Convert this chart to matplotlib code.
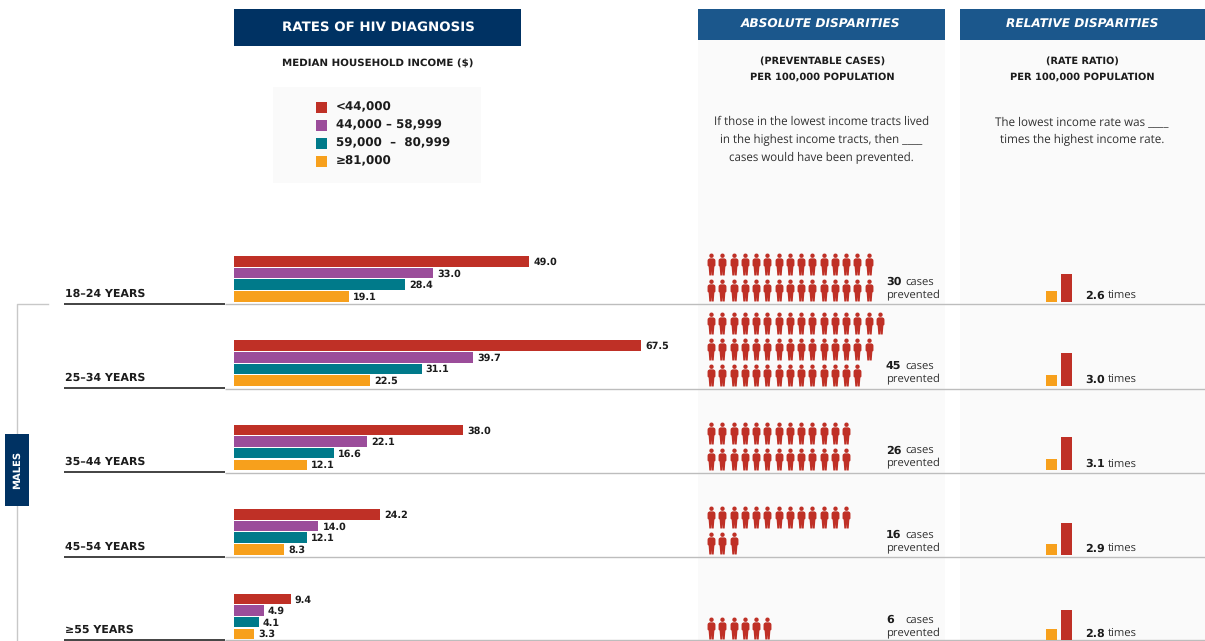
import matplotlib
matplotlib.use("Agg")
import matplotlib.pyplot as plt
from matplotlib.path import Path
from matplotlib.patches import Rectangle
import numpy as np

plt.rcParams["text.hinting"] = "no_hinting"

# ---- data ----
age_groups = ["18–24 YEARS", "25–34 YEARS", "35–44 YEARS", "45–54 YEARS", "≥55 YEARS"]
income_labels = ["<44,000", "44,000 – 58,999", "59,000  –  80,999", "≥81,000"]
rate_lowest = [49.0, 67.5, 38.0, 24.2, 9.4]
rate_low_mid = [33.0, 39.7, 22.1, 14.0, 4.9]
rate_high_mid = [28.4, 31.1, 16.6, 12.1, 4.1]
rate_highest = [19.1, 22.5, 12.1, 8.3, 3.3]
preventable = [30, 45, 26, 16, 6]
icon_rows = [[15, 15], [16, 15, 14], [13, 13], [13, 3], [6]]
rate_ratio = [2.6, 3.0, 3.1, 2.9, 2.8]
# ---- styles ----
RED, PURPLE, TEAL, ORANGE = "#bf3026", "#9b4d9a", "#007a8a", "#f7a01c"
NAVY, BLUE = "#003263", "#1b578c"
COLORS = [RED, PURPLE, TEAL, ORANGE]
INK = "#1c1c1c"
HEAD = "DejaVu Sans"
BODY = "Open Sans"
NUM = "DejaVu Sans"

W, H = 1205, 641
fig = plt.figure(figsize=(W / 100, H / 100), dpi=100, facecolor="white")
bg = fig.add_axes([0, 0, 1, 1])
bg.set_xlim(0, W); bg.set_ylim(H, 0); bg.axis("off")


def px_axes(x0, y0, x1, y1):
    a = fig.add_axes([x0 / W, 1 - y1 / H, (x1 - x0) / W, (y1 - y0) / H])
    a.patch.set_alpha(0); a.axis("off")
    return a


def rect(x0, y0, x1, y1, c, z=1):
    bg.add_patch(Rectangle((x0, y0), x1 - x0, y1 - y0, fc=c, ec="none", zorder=z))


def txt(x, y, s, size, weight="normal", fam=BODY, c=INK, ha="left", **kw):
    return bg.text(x, y, s, fontsize=size, fontweight=weight, family=fam, color=c, ha=ha, va="center", zorder=6, **kw)


# panels and headers
rect(698, 40, 945, H, "#fafafa")
rect(960, 40, W, H, "#fafafa")
rect(273, 87, 481, 183, "#fafafa")
rect(234, 9, 521, 46, NAVY)
rect(698, 9, 945, 40, BLUE)
rect(960, 9, W, 40, BLUE)
txt(378, 27.5, "RATES OF HIV DIAGNOSIS", 9.6, "bold", HEAD, "white", "center")
txt(821, 25, "ABSOLUTE DISPARITIES", 8.7, "bold", HEAD, "white", "center", style="italic")
txt(1082, 25, "RELATIVE DISPARITIES", 8.7, "bold", HEAD, "white", "center", style="italic")
txt(378, 64, "MEDIAN HOUSEHOLD INCOME ($)", 7.4, "bold", HEAD, INK, "center")
txt(822.5, 61, "(PREVENTABLE CASES)", 7.0, "bold", HEAD, INK, "center")
txt(822.5, 77, "PER 100,000 POPULATION", 7.1, "bold", HEAD, INK, "center")
txt(1082, 61, "(RATE RATIO)", 7.0, "bold", HEAD, INK, "center")
txt(1082, 77, "PER 100,000 POPULATION", 7.1, "bold", HEAD, INK, "center")
for yy, s in zip((121.7, 139.7, 157.7), ("If those in the lowest income tracts lived",
                                         "in the highest income tracts, then ____",
                                         "cases would have been prevented.")):
    txt(821.5, yy, s, 8.3, ha="center", c="#303030")
for yy, s in zip((121.7, 139.7), ("The lowest income rate was ____", "times the highest income rate.")):
    txt(1082, yy, s, 8.4, ha="center", c="#303030")

# legend
for yy, c, s in zip((107, 125, 143, 161), COLORS, income_labels):
    rect(316, yy - 5.5, 327, yy + 5.5, c)
    txt(336, yy, s, 8.6, "bold", NUM, INK)

# rules
group_bottom = [304, 388.5, 472.5, 557, 640]
for yb in group_bottom:
    bg.plot([225, W], [yb, yb], color="#bdbdbd", lw=1, zorder=5, solid_capstyle="butt")
    bg.plot([64, 225], [yb - 0.5, yb - 0.5], color="#222222", lw=1.2, zorder=5, solid_capstyle="butt")
bg.plot([48, 17, 17], [304, 304, H], color="#c8c8c8", lw=1, zorder=2)
rect(5, 434, 29, 506, NAVY, 3)
txt(17.5, 470, "MALES", 7.2, "bold", HEAD, "white", "center", rotation=90)

# person icon
head = Path.circle((0, 0.80), 0.20)
body = Path([(-0.18, 0.56), (0.18, 0.56), (0.32, 0.48), (0.36, 0.36), (0.36, -0.10), (0.26, -0.20),
             (0.20, -1.0), (0.02, -1.0), (0.0, -0.6), (-0.02, -1.0), (-0.20, -1.0),
             (-0.26, -0.20), (-0.36, -0.10), (-0.36, 0.36), (-0.32, 0.48), (-0.18, 0.56)])
PERSON = Path.make_compound_path(head, body)

group_top = [255.7, 339.9, 424.2, 508.7, 593.2]
icon_row_y = [[264, 290], [323, 349, 375], [433, 459], [517, 543], [628]]
base = [301.5, 385.5, 470, 554.5, 639.5]
value_sets = list(zip(rate_lowest, rate_low_mid, rate_high_mid, rate_highest))

for i, age in enumerate(age_groups):
    txt(65, group_bottom[i] - 10.5, age, 7.9, "bold", HEAD, INK)
    # bars
    a = px_axes(234, group_top[i], 837, group_top[i] + 46.4)
    a.set_xlim(0, 100); a.set_ylim(3.5, -0.5)
    vals = value_sets[i]
    a.barh(range(4), vals, height=0.9, color=COLORS)
    for k, v in enumerate(vals):
        a.annotate(f"{v:.1f}", (v, k), xytext=(3, -0.5), textcoords="offset points", va="center",
                   fontsize=6.9, fontweight="bold", family=NUM, color=INK)
    # icons
    ia = px_axes(700, 0, 900, H)
    ia.set_xlim(700, 900); ia.set_ylim(H, 0)
    for n, yy in zip(icon_rows[i], icon_row_y[i]):
        xs = 711 + 11.25 * np.arange(n)
        ia.plot(xs, np.full(n, yy), ls="none", marker=PERSON, ms=15.8, mfc=RED, mec="none")
    txt(886, base[i] - 19.5, str(preventable[i]), 8, "bold", NUM)
    txt(905, base[i] - 19.5, "cases", 8.1, c="#303030")
    txt(886, base[i] - 7, "prevented", 8.1, c="#303030")
    # ratio bars
    r = px_axes(1044, base[i] - 37.5, 1074, base[i])
    r.set_xlim(-0.5, 1.5); r.set_ylim(0, 3.5)
    r.bar([0, 1], [1.0, rate_ratio[i]], width=0.75, color=[ORANGE, RED])
    txt(1085, base[i] - 6, f"{rate_ratio[i]:.1f}", 8, "bold", NUM)
    txt(1108, base[i] - 6, "times", 8.1, c="#303030")

fig.savefig("out.png", dpi=100)
